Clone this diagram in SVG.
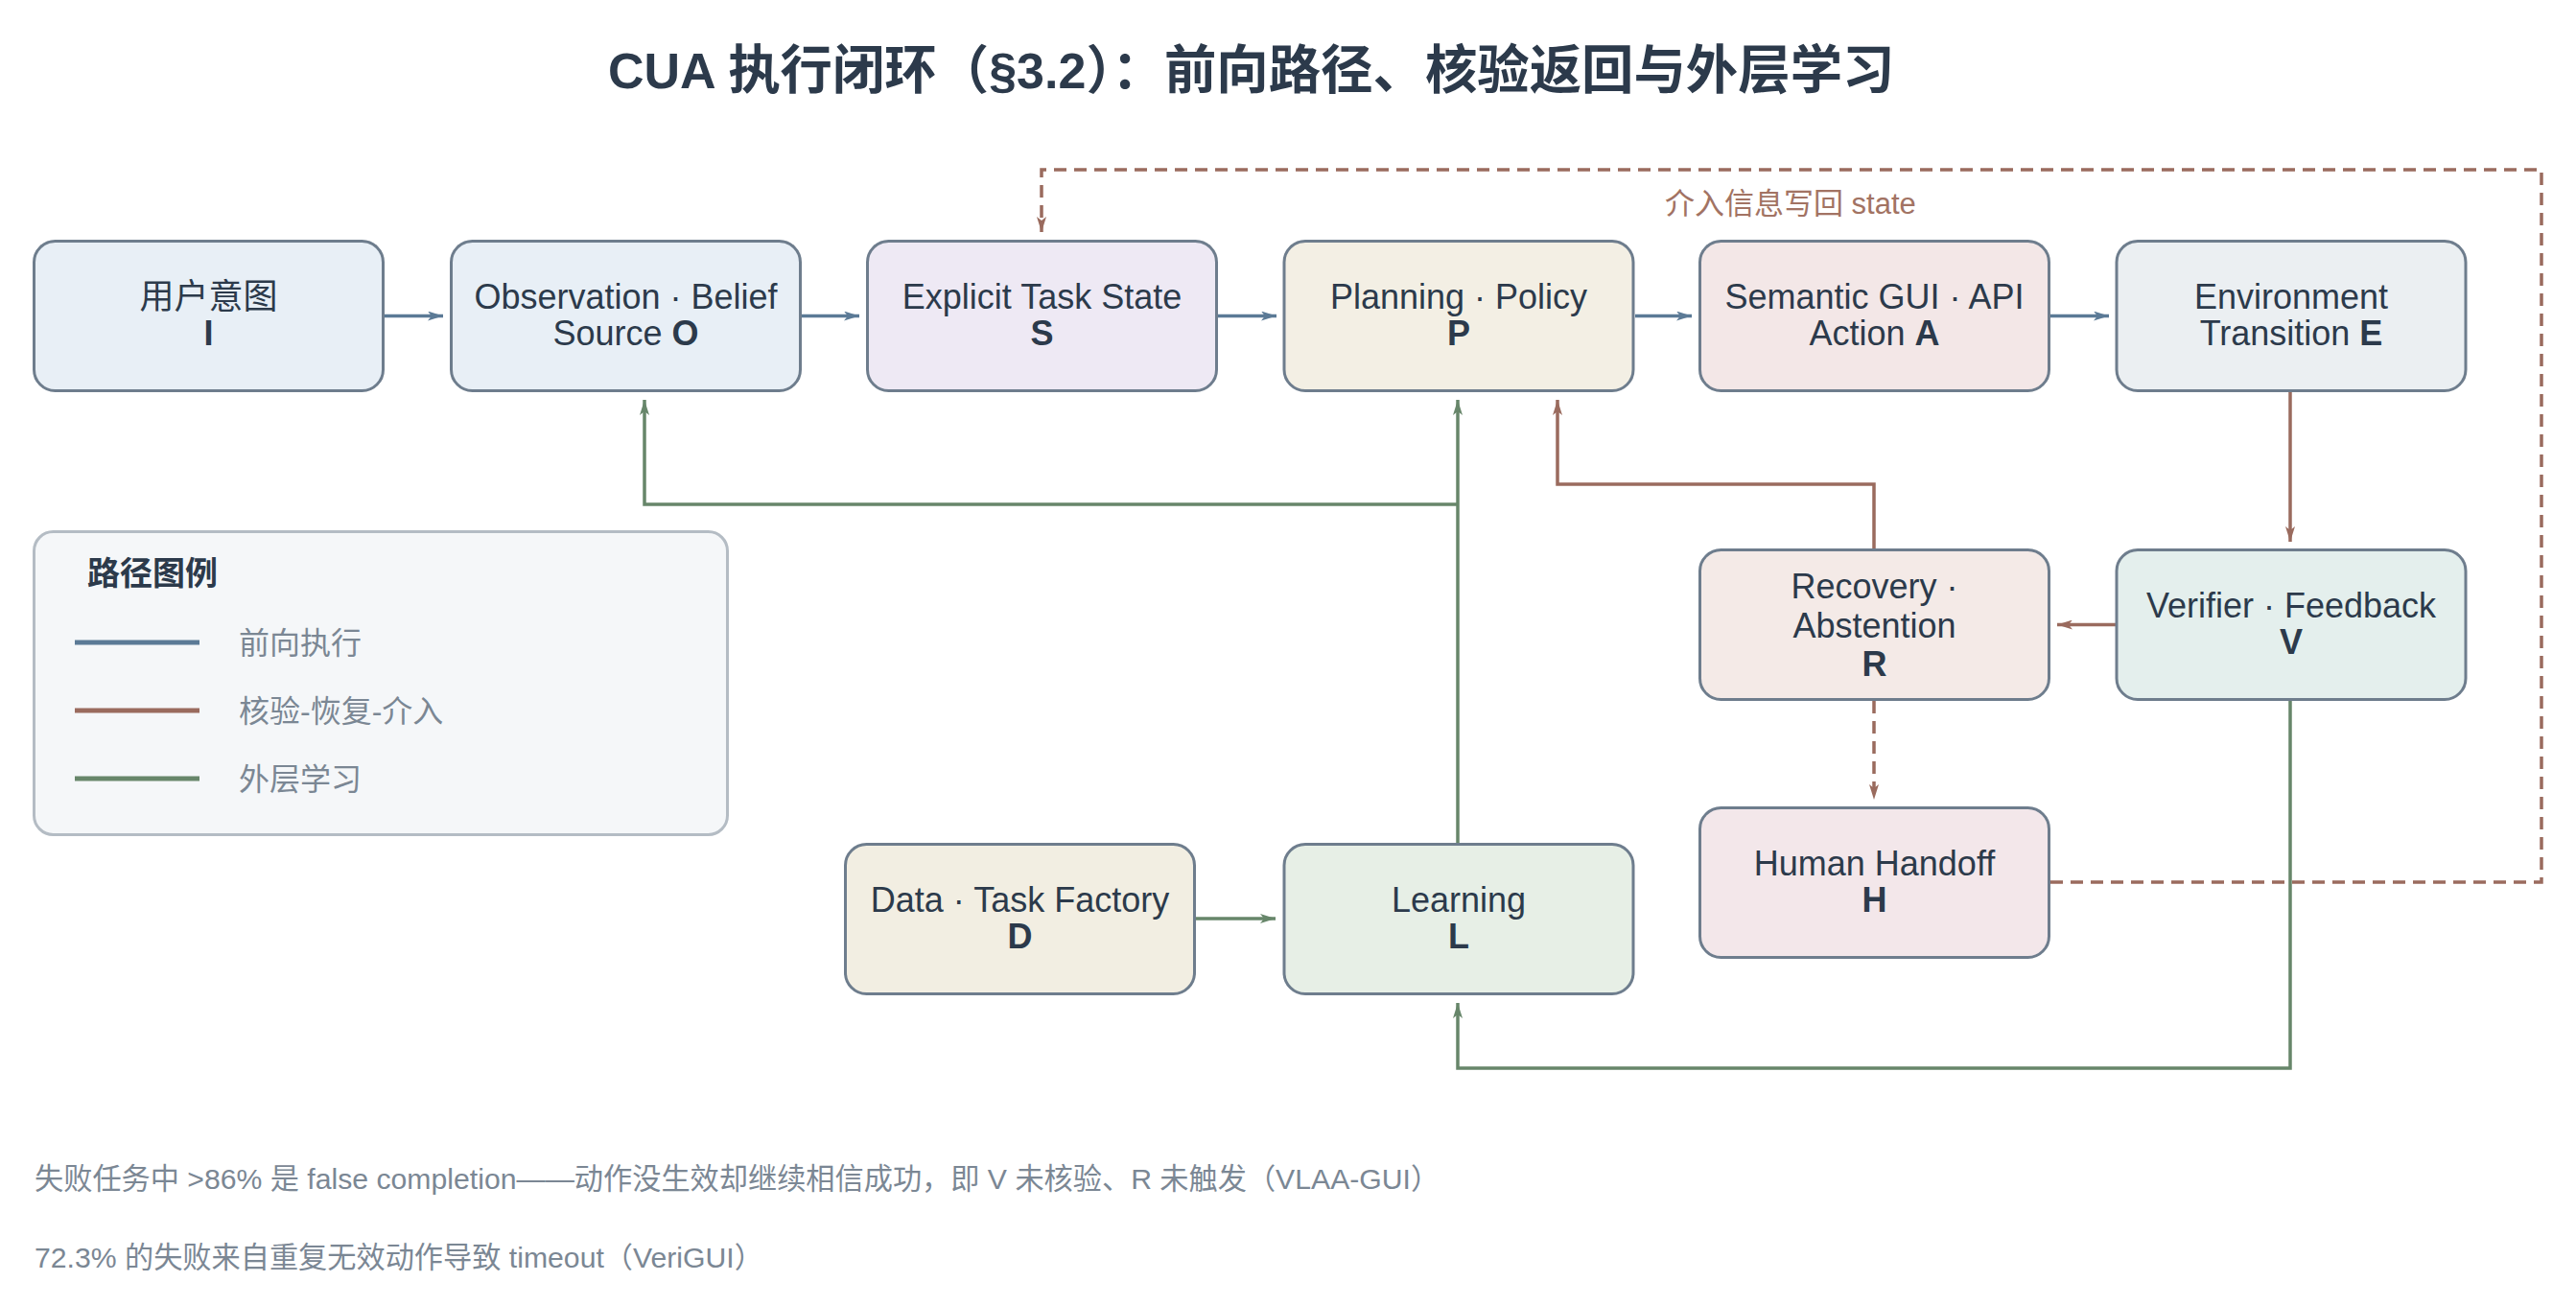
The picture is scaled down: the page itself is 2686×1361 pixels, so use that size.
<svg xmlns="http://www.w3.org/2000/svg" width="2686" height="1361" viewBox="0 0 2686 1361">
<style>
text{font-family:"Liberation Sans","Noto Sans CJK SC",sans-serif;}
.nt{font-size:36px;fill:#2c3a4b;text-anchor:middle;}
.b{font-weight:bold;}
.box{stroke:#6e7d8d;stroke-width:3;}
.blue{fill:none;stroke:#5b7a96;stroke-width:3.5;}
.red{fill:none;stroke:#9a6b5e;stroke-width:3.5;}
.green{fill:none;stroke:#67866a;stroke-width:3.5;}
.dash{stroke-dasharray:13 8;}
.leg{font-size:32px;fill:#7b8794;}
.foot{font-size:30.2px;fill:#7b8794;}
.cj{font-size:54.4px;}
</style>
<defs>
<marker id="mb" markerUnits="userSpaceOnUse" markerWidth="17" markerHeight="10" refX="16" refY="5" orient="auto"><path d="M0,0 L16,5 L0,10 L4,5 z" fill="#5b7a96"/></marker>
<marker id="mr" markerUnits="userSpaceOnUse" markerWidth="17" markerHeight="10" refX="16" refY="5" orient="auto"><path d="M0,0 L16,5 L0,10 L4,5 z" fill="#9a6b5e"/></marker>
<marker id="mg" markerUnits="userSpaceOnUse" markerWidth="17" markerHeight="10" refX="16" refY="5" orient="auto"><path d="M0,0 L16,5 L0,10 L4,5 z" fill="#67866a"/></marker>
</defs>
<rect width="2686" height="1361" fill="#ffffff"/>
<text x="634" y="92" font-size="52" font-weight="bold" fill="#2c3a4b">CUA <tspan class="cj">执行闭环（</tspan>§3.2<tspan class="cj">）：前向路径、核验返回与外层学习</tspan></text>

<g id="connectors">
<path class="blue" d="M401,329.5 H462" marker-end="url(#mb)"/>
<path class="blue" d="M836,329.5 H896" marker-end="url(#mb)"/>
<path class="blue" d="M1270,329.5 H1331" marker-end="url(#mb)"/>
<path class="blue" d="M1705,329.5 H1764" marker-end="url(#mb)"/>
<path class="blue" d="M2138,329.5 H2199" marker-end="url(#mb)"/>
<path class="red" d="M2388,409 V565" marker-end="url(#mr)"/>
<path class="red" d="M2206,651.5 H2145" marker-end="url(#mr)"/>
<path class="red" d="M1954,572 V505 H1624 V417" marker-end="url(#mr)"/>
<path class="red dash" d="M1954,731 V834" marker-end="url(#mr)"/>
<path class="red dash" d="M2138,920 H2650 V177 H1086 V242" marker-end="url(#mr)"/>
<text x="1736" y="223" font-size="31" fill="#a27363">介入信息写回 state</text>
<path class="green" d="M1520,879 V417" marker-end="url(#mg)"/>
<path class="green" d="M1520,526 H672 V417" marker-end="url(#mg)"/>
<path class="green" d="M2388,731 V1114 H1520 V1046" marker-end="url(#mg)"/>
<path class="green" d="M1246,958 H1330" marker-end="url(#mg)"/>
</g>

<g id="node-I"><rect class="box" x="35.5" y="251.5" width="364" height="156" rx="22" fill="#e8eff6"/>
<text class="nt" x="217.5" y="322" font-size="38">用户意图</text><text class="nt b" x="217.5" y="360">I</text></g>
<g id="node-O"><rect class="box" x="470.5" y="251.5" width="364" height="156" rx="22" fill="#e8eff6"/>
<text class="nt" x="652.5" y="322">Observation · Belief</text><text class="nt" x="652.5" y="360">Source <tspan class="b">O</tspan></text></g>
<g id="node-S"><rect class="box" x="904.5" y="251.5" width="364" height="156" rx="22" fill="#eee9f4"/>
<text class="nt" x="1086.5" y="322">Explicit Task State</text><text class="nt b" x="1086.5" y="360">S</text></g>
<g id="node-P"><rect class="box" x="1339" y="251.5" width="364" height="156" rx="22" fill="#f3efe4"/>
<text class="nt" x="1521" y="322">Planning · Policy</text><text class="nt b" x="1521" y="360">P</text></g>
<g id="node-A"><rect class="box" x="1772.5" y="251.5" width="364" height="156" rx="22" fill="#f3e7e7"/>
<text class="nt" x="1954.5" y="322">Semantic GUI · API</text><text class="nt" x="1954.5" y="360">Action <tspan class="b">A</tspan></text></g>
<g id="node-E"><rect class="box" x="2207" y="251.5" width="364" height="156" rx="22" fill="#ebeff2"/>
<text class="nt" x="2389" y="322">Environment</text><text class="nt" x="2389" y="360">Transition <tspan class="b">E</tspan></text></g>
<g id="node-V"><rect class="box" x="2207" y="573.5" width="364" height="156" rx="22" fill="#e4efed"/>
<text class="nt" x="2389" y="644">Verifier · Feedback</text><text class="nt b" x="2389" y="682">V</text></g>
<g id="node-R"><rect class="box" x="1772.5" y="573.5" width="364" height="156" rx="22" fill="#f4eae7"/>
<text class="nt" x="1954.5" y="624">Recovery ·</text><text class="nt" x="1954.5" y="665">Abstention</text><text class="nt b" x="1954.5" y="705">R</text></g>
<g id="node-H"><rect class="box" x="1772.5" y="842.5" width="364" height="156" rx="22" fill="#f3e7ea"/>
<text class="nt" x="1954.5" y="913">Human Handoff</text><text class="nt b" x="1954.5" y="951">H</text></g>
<g id="node-D"><rect class="box" x="881.5" y="880.5" width="364" height="156" rx="22" fill="#f2eee2"/>
<text class="nt" x="1063.5" y="951">Data · Task Factory</text><text class="nt b" x="1063.5" y="989">D</text></g>
<g id="node-L"><rect class="box" x="1339" y="880.5" width="364" height="156" rx="22" fill="#e7efe6"/>
<text class="nt" x="1521" y="951">Learning</text><text class="nt b" x="1521" y="989">L</text></g>

<g id="legend">
<rect x="35.5" y="554.5" width="723" height="316" rx="20" fill="#f5f7f9" stroke="#b4bcc4" stroke-width="3"/>
<text x="91" y="610" font-size="34" font-weight="bold" fill="#2c3a4b">路径图例</text>
<line x1="78" y1="670" x2="208" y2="670" stroke="#5b7a96" stroke-width="5"/>
<text class="leg" x="249" y="682">前向执行</text>
<line x1="78" y1="741" x2="208" y2="741" stroke="#9a6b5e" stroke-width="5"/>
<text class="leg" x="249" y="753">核验-恢复-介入</text>
<line x1="78" y1="812" x2="208" y2="812" stroke="#67866a" stroke-width="5"/>
<text class="leg" x="249" y="824">外层学习</text>
</g>

<text class="foot" x="36" y="1240">失败任务中 &gt;86% 是 false completion——动作没生效却继续相信成功，即 V 未核验、R 未触发（VLAA-GUI）</text>
<text class="foot" x="36" y="1322">72.3% 的失败来自重复无效动作导致 timeout（VeriGUI）</text>
</svg>
